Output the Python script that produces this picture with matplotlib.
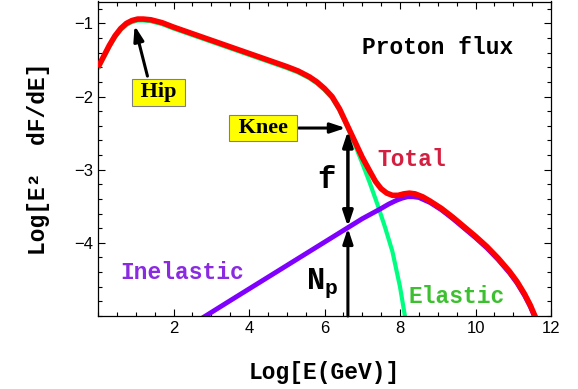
import matplotlib
matplotlib.use('Agg')
import matplotlib.pyplot as plt
import numpy as np

# elastic component (green)
el_x = [0.0, 0.15, 0.3, 0.45, 0.6, 0.75, 0.9, 1.05, 1.2, 1.4, 1.7, 2.0, 2.5, 3.0,
        3.5, 4.0, 4.5, 5.0, 5.3, 5.6, 5.8, 6.0, 6.2, 6.4, 6.6, 6.8, 7.0, 7.2,
        7.4, 7.6, 7.8, 8.0, 8.13, 8.25]
el_y = [-1.62, -1.47, -1.32, -1.19, -1.09, -1.02, -0.98, -0.96, -0.96, -0.97,
        -1.01, -1.07, -1.16, -1.25, -1.34, -1.43, -1.52, -1.61, -1.67, -1.75,
        -1.82, -1.91, -2.02, -2.19, -2.41, -2.65, -2.91, -3.18, -3.47, -3.78,
        -4.12, -4.60, -5.0, -5.3]

# inelastic component (purple)
inel_x = [2.6, 3.5, 4.5, 5.5, 6.5, 7.0, 7.5, 7.7, 7.9, 8.05, 8.2, 8.35, 8.5,
          8.8, 9.1, 9.4, 9.7, 10.0, 10.3, 10.6, 10.9, 11.1, 11.3, 11.45, 11.6, 11.7]
inel_y = [-5.08, -4.79, -4.47, -4.15, -3.83, -3.67, -3.53, -3.47, -3.42, -3.39,
          -3.37, -3.37, -3.38, -3.45, -3.55, -3.67, -3.80, -3.93, -4.07, -4.23,
          -4.41, -4.55, -4.72, -4.87, -5.05, -5.2]

# total (red)
tot_x = [0.0, 0.15, 0.3, 0.45, 0.6, 0.75, 0.9, 1.05, 1.2, 1.4, 1.7, 2.0, 2.5, 3.0,
         3.5, 4.0, 4.5, 5.0, 5.3, 5.6, 5.8, 6.0, 6.2, 6.4, 6.6, 6.8, 7.0, 7.2,
         7.35, 7.5, 7.65, 7.8, 7.95, 8.1, 8.25, 8.4, 8.6, 8.8, 9.1, 9.4, 9.7,
         10.0, 10.3, 10.6, 10.9, 11.1, 11.3, 11.45, 11.6, 11.7]
tot_y = [-1.60, -1.45, -1.30, -1.17, -1.07, -1.00, -0.96, -0.94, -0.94, -0.95,
         -0.99, -1.05, -1.14, -1.23, -1.32, -1.41, -1.50, -1.59, -1.65, -1.73,
         -1.80, -1.89, -2.00, -2.17, -2.39, -2.61, -2.83, -3.02, -3.16, -3.26,
         -3.32, -3.35, -3.35, -3.33, -3.32, -3.33, -3.37, -3.43, -3.53, -3.65,
         -3.78, -3.91, -4.05, -4.21, -4.39, -4.53, -4.70, -4.85, -5.03, -5.2]

plt.rcParams['mathtext.fontset'] = 'custom'
plt.rcParams['mathtext.rm'] = 'Liberation Mono:bold'
plt.rcParams['mathtext.it'] = 'Liberation Mono:bold'
plt.rcParams['mathtext.bf'] = 'Liberation Mono:bold'

mono = dict(family='Liberation Mono', weight='bold')
serif = dict(family='Liberation Serif', weight='bold')

fig = plt.figure(figsize=(5.78, 3.89), dpi=100)
ax = fig.add_axes([98/578, 1 - 316/389, (551 - 98)/578, (316 - 1.5)/389])

line_kw = dict(solid_joinstyle='round', solid_capstyle='butt')
ax.plot(el_x, el_y, color='#00ff80', lw=3, zorder=2, **line_kw)
ax.plot(inel_x, inel_y, color='#8000ff', lw=3.5, zorder=2, **line_kw)
ax.plot(tot_x, tot_y, color='#ff0000', lw=4, zorder=3, **line_kw)

ax.set_xlim(0, 12)
ax.set_ylim(-5, -0.7)
ax.set_xticks([2, 4, 6, 8, 10, 12])
ax.set_xticks(np.arange(0, 12.01, 0.5), minor=True)
ax.set_yticks([-4, -3, -2, -1])
ax.set_yticks(np.arange(-5, -0.69, 0.2), minor=True)
ax.tick_params(which='both', direction='in', top=True, right=True,
               labelsize=12, width=0.8)
ax.tick_params(which='major', length=5)
ax.tick_params(which='minor', length=3)
for lab in ax.get_xticklabels() + ax.get_yticklabels():
    lab.set_family('Liberation Sans')
for s in ax.spines.values():
    s.set_linewidth(0.9)

ax.set_xlabel('Log[E(GeV)]', fontsize=16.5, labelpad=18, **mono)
ax.set_ylabel('Log[E\u00b2  dF/dE]', fontsize=16.5, labelpad=17, **mono)

# curve labels
ax.text(9.0, -1.33, 'Proton flux', fontsize=16.5, ha='center', va='center', **mono)
ax.text(8.31, -2.86, 'Total', fontsize=16.5, ha='center', va='center',
        color='#d42040', **mono)
ax.text(2.24, -4.40, 'Inelastic', fontsize=16.5, ha='center', va='center',
        color='#8a2be2', **mono)
ax.text(9.51, -4.74, 'Elastic', fontsize=16.5, ha='center', va='center',
        color='#3cc030', **mono)

# Hip / Knee boxes with arrows
box = dict(boxstyle='square,pad=0.15', fc='#ffff00', ec='#808080', lw=0.8)
arr = dict(arrowstyle='-|>,head_length=0.9,head_width=0.3', color='black',
           lw=2.2, shrinkA=0, shrinkB=0)
ax.annotate('', xy=(0.97, -1.03), xytext=(1.31, -1.72), arrowprops=arr, zorder=5)
ax.text(1.6, -1.94, ' Hip ', fontsize=16, ha='center', va='center', bbox=box,
        zorder=6, **serif)
ax.annotate('', xy=(6.56, -2.43), xytext=(5.32, -2.43), arrowprops=arr, zorder=5)
ax.text(4.37, -2.43, ' Knee ', fontsize=16, ha='center', va='center', bbox=box,
        zorder=6, **serif)

# f and Np arrows
darr = dict(arrowstyle='<|-|>,head_length=0.9,head_width=0.3', color='black',
            lw=2.5, shrinkA=0, shrinkB=0)
ax.annotate('', xy=(6.62, -2.47), xytext=(6.62, -3.78), arrowprops=darr, zorder=5)
ax.text(6.06, -3.14, 'f', fontsize=22, ha='center', va='center', **mono)
ax.annotate('', xy=(6.62, -3.80), xytext=(6.62, -5.0), arrowprops=arr, zorder=5)
ax.text(5.95, -4.55, r'N$_\mathrm{p}$', fontsize=22, ha='center', va='center', **mono)

fig.savefig('out.png', dpi=100)
